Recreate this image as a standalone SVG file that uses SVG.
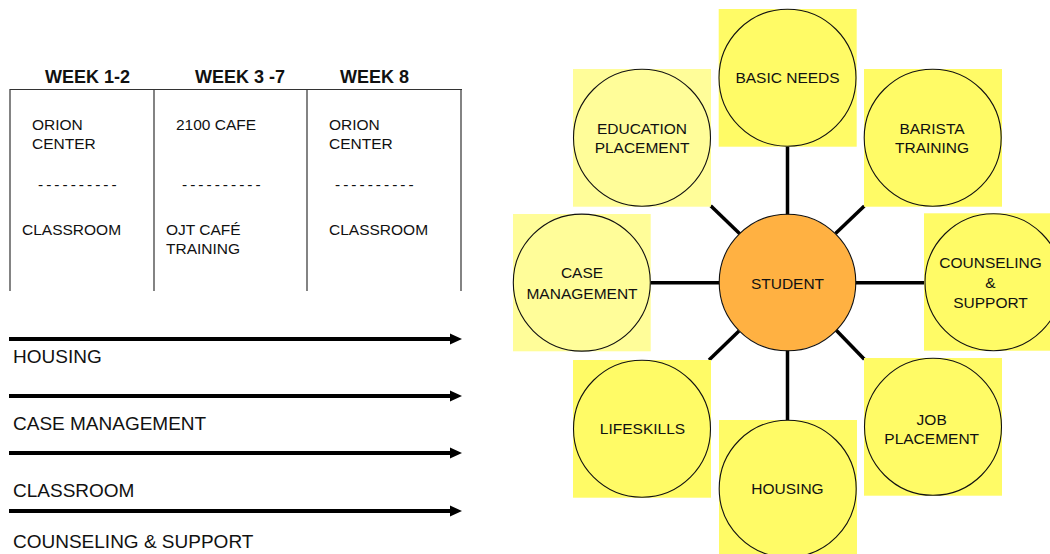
<svg xmlns="http://www.w3.org/2000/svg" width="1050" height="554" viewBox="0 0 1050 554">
  <style>
    text { font-family: "Liberation Sans", Arial, sans-serif; fill: #111; }
    .hdr { font-size: 18px; font-weight: bold; }
    .cell { font-size: 15.5px; }
    .dash { font-size: 15.5px; letter-spacing: 3px; }
    .lane { font-size: 19px; }
    .grid { stroke: #333; stroke-width: 1.2; fill: none; }
    .bar { stroke: #000; stroke-width: 4; }
    .head { fill: #000; }
    .lbl { font-size: 15.5px; text-anchor: middle; }
    .pale { fill: #FFFD99; }
    .bright { fill: #FFFB66; }
    .ring { stroke: #111; stroke-width: 1.1; }
    .hub { fill: #FFB142; stroke: #111; stroke-width: 1.1; }
    .spoke { stroke: #000; stroke-width: 3.5; }
  </style>

  <!-- schedule table -->
  <g id="schedule">
    <text class="hdr" x="45" y="83">WEEK 1-2</text>
    <text class="hdr" x="195" y="83">WEEK 3 -7</text>
    <text class="hdr" x="340" y="83">WEEK 8</text>
    <path class="grid" d="M10 89.5 H462 M10 89 V291 M154 89 V291 M307 89 V291 M461 89 V291"/>
    <text class="cell" x="32" y="130">ORION</text>
    <text class="cell" x="32" y="148.5">CENTER</text>
    <text class="dash" x="38" y="190">----------</text>
    <text class="cell" x="22" y="235">CLASSROOM</text>

    <text class="cell" x="176" y="130">2100 CAFE</text>
    <text class="dash" x="182" y="190">----------</text>
    <text class="cell" x="166" y="235">OJT CAFÉ</text>
    <text class="cell" x="166" y="253.5">TRAINING</text>

    <text class="cell" x="329" y="130">ORION</text>
    <text class="cell" x="329" y="148.5">CENTER</text>
    <text class="dash" x="335" y="190">----------</text>
    <text class="cell" x="329" y="235">CLASSROOM</text>
  </g>

  <!-- ongoing services timeline -->
  <g id="timeline">
    <line class="bar" x1="9" y1="339" x2="452" y2="339"/>
    <polygon class="head" points="450,333.5 462,339 450,344.5"/>
    <text class="lane" x="13" y="363">HOUSING</text>

    <line class="bar" x1="9" y1="396" x2="452" y2="396"/>
    <polygon class="head" points="450,390.5 462,396 450,401.5"/>
    <text class="lane" x="13" y="430">CASE MANAGEMENT</text>

    <line class="bar" x1="9" y1="453" x2="452" y2="453"/>
    <polygon class="head" points="450,447.5 462,453 450,458.5"/>
    <text class="lane" x="13" y="497">CLASSROOM</text>

    <line class="bar" x1="9" y1="511" x2="452" y2="511"/>
    <polygon class="head" points="450,505.5 462,511 450,516.5"/>
    <text class="lane" x="13" y="548">COUNSELING &amp; SUPPORT</text>
  </g>

  <!-- spokes from the hub -->
  <g id="connectors">
    <line class="spoke" x1="787.5" y1="146" x2="787.5" y2="215"/>
    <line class="spoke" x1="787.5" y1="350" x2="787.5" y2="421"/>
    <line class="spoke" x1="650" y1="282.7" x2="720" y2="282.7"/>
    <line class="spoke" x1="855" y1="282.7" x2="925" y2="282.7"/>
    <line class="spoke" x1="710.7" y1="205.7" x2="740" y2="234"/>
    <line class="spoke" x1="864.3" y1="206" x2="835.5" y2="233.5"/>
    <line class="spoke" x1="709" y1="360" x2="739" y2="331"/>
    <line class="spoke" x1="835.5" y1="329.5" x2="864.3" y2="359.3"/>
  </g>

  <g id="basic-needs">
    <rect class="bright" x="718.7" y="9" width="138" height="137.7"/>
    <circle class="bright ring" cx="787.5" cy="77.7" r="68.5"/>
    <text class="lbl" x="787.5" y="82.7">BASIC NEEDS</text>
  </g>

  <g id="education-placement">
    <rect class="pale" x="573" y="69" width="138" height="137.7"/>
    <circle class="pale ring" cx="642" cy="137.7" r="68.5"/>
    <text class="lbl" x="642" y="134">EDUCATION</text>
    <text class="lbl" x="642" y="152.7">PLACEMENT</text>
  </g>

  <g id="barista-training">
    <rect class="bright" x="864" y="69" width="138" height="137.7"/>
    <circle class="bright ring" cx="932.7" cy="137.7" r="68.5"/>
    <text class="lbl" x="932" y="134">BARISTA</text>
    <text class="lbl" x="932" y="152.7">TRAINING</text>
  </g>

  <g id="case-management">
    <rect class="pale" x="513" y="214" width="137.7" height="137.3"/>
    <circle class="pale ring" cx="581.8" cy="282.6" r="68.5"/>
    <text class="lbl" x="582" y="278.3">CASE</text>
    <text class="lbl" x="582" y="299.3">MANAGEMENT</text>
  </g>

  <g id="counseling-support">
    <rect class="bright" x="924" y="213.3" width="138" height="137.4"/>
    <circle class="bright ring" cx="993.5" cy="282.2" r="68.5"/>
    <text class="lbl" x="990.5" y="268.3">COUNSELING</text>
    <text class="lbl" x="990.5" y="288.3">&amp;</text>
    <text class="lbl" x="990.5" y="307.7">SUPPORT</text>
  </g>

  <g id="lifeskills">
    <rect class="bright" x="573" y="360" width="138" height="137.7"/>
    <circle class="bright ring" cx="642" cy="428.7" r="68.5"/>
    <text class="lbl" x="642.5" y="434">LIFESKILLS</text>
  </g>

  <g id="housing">
    <rect class="bright" x="719" y="420" width="138" height="138"/>
    <circle class="bright ring" cx="787.7" cy="488.7" r="68.5"/>
    <text class="lbl" x="787.5" y="494">HOUSING</text>
  </g>

  <g id="job-placement">
    <rect class="bright" x="864" y="358" width="138" height="137.7"/>
    <circle class="bright ring" cx="933" cy="426.8" r="68.5"/>
    <text class="lbl" x="931.7" y="425">JOB</text>
    <text class="lbl" x="931.7" y="444">PLACEMENT</text>
  </g>

  <g id="student">
    <circle class="hub" cx="787.5" cy="282.5" r="68.3"/>
    <text class="lbl" x="787.5" y="289">STUDENT</text>
  </g>
</svg>
